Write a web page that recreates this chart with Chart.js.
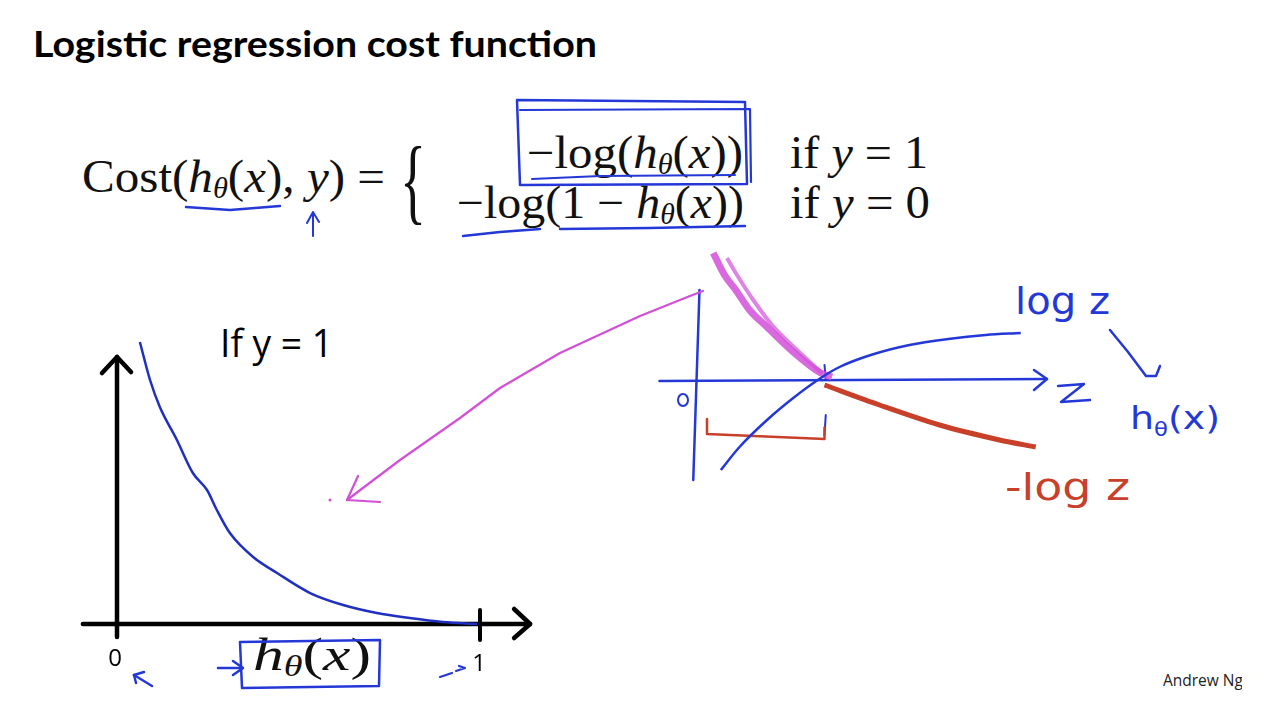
<!DOCTYPE html>
<html>
<head>
<meta charset="utf-8">
<script src="https://cdn.jsdelivr.net/npm/chart.js@4.4.1/dist/chart.umd.min.js"></script>
<style>
html, body { margin: 0; padding: 0; background: #fff; width: 1280px; height: 705px; overflow: hidden; }
#wrap { position: relative; width: 1280px; height: 705px; }
#slide { position: absolute; left: 0; top: 0; }
.t { position: absolute; white-space: nowrap; line-height: 1; transform-origin: left top; }
.serif { font-family: "Liberation Serif", "DejaVu Serif", serif; color: #111; }
.serif sub { font-size: 0.62em; vertical-align: -0.22em; }
.sans { font-family: "Open Sans", "Noto Sans", sans-serif; color: #000; }
.hand { font-family: "DejaVu Sans", sans-serif; }
</style>
</head>
<body>
<div id="wrap">
  <div class="t sans" style="left:33px;top:25px;font-size:36px;font-weight:700;font-family:Lato,'Open Sans',sans-serif" data-w="564">Logistic regression cost function</div>

  <div class="t serif" style="left:82px;top:154px;font-size:46px" data-w="303">Cost(<i>h</i><sub><i>θ</i></sub>(<i>x</i>), <i>y</i>) =</div>
  <div class="t serif" style="left:400px;top:132px;font-size:96px" data-w="26">{</div>
  <div class="t serif" style="left:527px;top:130px;font-size:46px" data-w="216">−log(<i>h</i><sub><i>θ</i></sub>(<i>x</i>))</div>
  <div class="t serif" style="left:457px;top:180px;font-size:46px" data-w="287">−log(1 − <i>h</i><sub><i>θ</i></sub>(<i>x</i>))</div>
  <div class="t serif" style="left:790px;top:130px;font-size:46px" data-w="138">if <i>y</i> = 1</div>
  <div class="t serif" style="left:790px;top:180px;font-size:46px" data-w="140">if <i>y</i> = 0</div>

  <div class="t sans" style="left:220px;top:323px;font-size:38px" data-w="113">If y = 1</div>
  <div class="t serif" style="left:253px;top:632px;font-size:46px" data-w="118"><i>h</i><sub><i>θ</i></sub>(<i>x</i>)</div>

  <div class="t hand" style="left:1015px;top:282px;font-size:38px;color:#2438d8" data-w="95">log z</div>
  <div class="t hand" style="left:1130px;top:402px;font-size:32px;color:#2438d8" data-w="90">h<sub style="font-size:0.6em">θ</sub>(x)</div>
  <div class="t hand" style="left:1005px;top:468px;font-size:38px;color:#c8402a" data-w="125">-log z</div>

  <div style="position:absolute;left:1163px;top:673px;width:79px;height:22px;overflow:hidden">
    <div class="t sans" style="left:0;top:0;font-size:15.5px;color:#222">Andrew Ng</div>
  </div>

  <canvas id="slide" width="1280" height="705"></canvas>
</div>

<script>
// left plot: cost = -log(h) for y = 1
const costX = [0.063, 0.091, 0.118, 0.165, 0.209, 0.248, 0.275, 0.311, 0.375, 0.441, 0.532, 0.623, 0.716, 0.806, 0.898, 0.992];
const costY = [2.82, 2.44, 2.17, 1.84, 1.51, 1.34, 1.14, 0.91, 0.67, 0.51, 0.31, 0.19, 0.11, 0.06, 0.02, 0.0];
const xTicks = [0, 1];
const xTickLabels = ["0", "1"];

// sketch on the right: log z, -log z and the highlighted part
const logZx = [0.19, 0.34, 0.56, 0.78, 0.99, 1.14, 1.39, 1.70, 2.01, 2.31, 2.59];
const logZy = [-1.80, -1.34, -0.80, -0.34, 0.04, 0.26, 0.50, 0.70, 0.82, 0.90, 0.94];
const negLogZx = [1.02, 1.46, 1.94, 2.42, 2.71];
const negLogZy = [-0.10, -0.50, -0.90, -1.20, -1.34];
const pinkX = [0.13, 0.22, 0.31, 0.42, 0.56, 0.78, 0.99, 1.08];
const pinkY = [2.54, 2.10, 1.80, 1.40, 1.06, 0.54, 0.14, 0.06];
const pink2X = [0.24, 0.32, 0.45, 0.60, 0.80, 1.00];
const pink2Y = [2.44, 2.10, 1.60, 1.10, 0.60, 0.14];

const W = 1280, H = 705;
// pixel anchors of each coordinate system on the slide
const left = { x0: 117, kx: 363, y0: 624, ky: 100 };
const right = { x0: 697, kx: 125, y0: 380, ky: 50 };

const pts = (xs, ys) => xs.map((x, i) => ({ x: x, y: ys[i] }));

// fit text widths
document.querySelectorAll("[data-w]").forEach(el => {
  const w = el.getBoundingClientRect().width;
  el.style.transform = `scaleX(${Number(el.dataset.w) / w})`;
});

function poly(ctx, p, color, width, close) {
  ctx.save();
  ctx.strokeStyle = color;
  ctx.lineWidth = width;
  ctx.lineCap = "round";
  ctx.lineJoin = "round";
  ctx.beginPath();
  p.forEach((q, i) => i ? ctx.lineTo(q[0], q[1]) : ctx.moveTo(q[0], q[1]));
  if (close) ctx.closePath();
  ctx.stroke();
  ctx.restore();
}

const BLUE = "#2438d8";
const PINK = "#d24fd8";
const RED = "#c8402a";

const sketchPlugin = {
  id: "sketch",
  beforeDatasetsDraw(chart) {
    const ctx = chart.ctx;
    const { x, y, x2, y2 } = chart.scales;
    const X = v => x.getPixelForValue(v), Y = v => y.getPixelForValue(v);
    const X2 = v => x2.getPixelForValue(v), Y2 = v => y2.getPixelForValue(v);

    // left axes
    poly(ctx, [[X(0), Y(-0.13)], [X(0), Y(2.67)]], "#000", 4.5);
    poly(ctx, [[X(0) - 15, Y(2.67) + 16], [X(0), Y(2.67)], [X(0) + 14, Y(2.67) + 15]], "#000", 4.5);
    poly(ctx, [[X(-0.094), Y(0)], [X(1.138), Y(0)]], "#000", 4.5);
    poly(ctx, [[X(1.138) - 16, Y(0) - 15], [X(1.138), Y(0)], [X(1.138) - 16, Y(0) + 14]], "#000", 4.5);
    poly(ctx, [[X(1), Y(0) + 16], [X(1), Y(0) - 14]], "#000", 4);
    ctx.save();
    ctx.fillStyle = "#000";
    ctx.font = "24px 'Open Sans', sans-serif";
    ctx.textAlign = "center";
    ctx.fillText(xTickLabels[0], X(xTicks[0]) - 2, 666);
    ctx.fillText(xTickLabels[1], X(xTicks[1]) - 1, 671);
    ctx.restore();

    // right sketch axes
    poly(ctx, [[X2(0.02), Y2(1.8)], [X2(-0.03), Y2(-2.0)]], BLUE, 2.5);
    poly(ctx, [[X2(-0.3), Y2(-0.02)], [X2(2.8), Y2(0.02)]], BLUE, 2.5);
    poly(ctx, [[X2(2.8) - 13, Y2(0.02) - 9], [X2(2.8), Y2(0.02)], [X2(2.8) - 13, Y2(0.02) + 11]], BLUE, 2.5);
    poly(ctx, [[1058, 386], [1084, 384], [1061, 402], [1090, 400]], BLUE, 2.5);
    poly(ctx, [[X2(1.02), Y2(0.3)], [X2(1.03), Y2(0.0)]], BLUE, 2);
    poly(ctx, [[X2(1.03), Y2(-0.7)], [X2(1.02), Y2(-1.1)]], BLUE, 2);
    ctx.save();
    ctx.strokeStyle = BLUE; ctx.lineWidth = 2;
    ctx.beginPath(); ctx.ellipse(683, 400, 5, 6, 0, 0, Math.PI * 2); ctx.stroke();
    ctx.restore();
    // red bracket under 0..1
    poly(ctx, [[X2(0.08), Y2(-0.78)], [X2(0.08), Y2(-1.08)], [X2(1.02), Y2(-1.18)], [X2(1.02), Y2(-0.95)]], RED, 2.5);
  },
  afterDatasetsDraw(chart) {
    const ctx = chart.ctx;
    // hand annotations on the formula
    poly(ctx, [[517, 100], [745, 102], [747, 184], [520, 185]], BLUE, 2.5, true);
    poly(ctx, [[520, 110], [750, 109], [751, 182]], BLUE, 2.2);
    poly(ctx, [[532, 179], [600, 176], [735, 175]], BLUE, 2);
    poly(ctx, [[186, 207], [230, 210], [280, 206]], BLUE, 2.5);
    poly(ctx, [[313, 236], [313, 214]], BLUE, 2);
    poly(ctx, [[307, 223], [313, 212], [319, 222]], BLUE, 2);
    poly(ctx, [[463, 236], [500, 232], [540, 229]], BLUE, 2.5);
    poly(ctx, [[560, 229], [650, 228], [745, 226]], BLUE, 2.5);

    // hand annotations on the left plot
    poly(ctx, [[240, 642], [380, 640], [379, 686], [242, 688]], BLUE, 2.5, true);
    poly(ctx, [[218, 668], [242, 668]], BLUE, 2.5);
    poly(ctx, [[233, 661], [243, 668], [233, 675]], BLUE, 2.5);
    poly(ctx, [[152, 686], [134, 675]], BLUE, 2.5);
    poly(ctx, [[134, 675], [136, 683]], BLUE, 2.5);
    poly(ctx, [[134, 675], [144, 672]], BLUE, 2.5);
    poly(ctx, [[440, 677], [452, 673]], BLUE, 2.2);
    poly(ctx, [[456, 671], [465, 668], [459, 666]], BLUE, 2.2);

    // arrow from the sketch to the plot
    poly(ctx, [[703, 291], [690, 296], [640, 316], [560, 353], [500, 388], [460, 418], [400, 460], [347, 500]], PINK, 2.2);
    poly(ctx, [[358, 476], [347, 500], [380, 502]], PINK, 2.2);
    ctx.save(); ctx.fillStyle = PINK; ctx.beginPath(); ctx.arc(330, 500, 1.5, 0, Math.PI * 2); ctx.fill(); ctx.restore();

    // log z -> h(x) arrow
    poly(ctx, [[1110, 330], [1128, 352], [1146, 376], [1156, 376], [1160, 366]], BLUE, 2.5);
  }
};

new Chart(document.getElementById("slide"), {
  type: "scatter",
  data: {
    datasets: [
      { data: pts(costX, costY), showLine: true, borderColor: "#1f30c0", borderWidth: 2.5,
        pointRadius: 0, cubicInterpolationMode: "monotone", xAxisID: "x", yAxisID: "y" },
      { data: pts(negLogZx, negLogZy), showLine: true, borderColor: RED, borderWidth: 5,
        pointRadius: 0, tension: 0.3, xAxisID: "x2", yAxisID: "y2" },
      { data: pts(logZx, logZy), showLine: true, borderColor: BLUE, borderWidth: 2.5,
        pointRadius: 0, cubicInterpolationMode: "monotone", xAxisID: "x2", yAxisID: "y2" },
      { data: pts(pinkX, pinkY), showLine: true, borderColor: "rgba(210,79,216,0.85)", borderWidth: 7,
        pointRadius: 0, cubicInterpolationMode: "monotone", xAxisID: "x2", yAxisID: "y2" },
      { data: pts(pink2X, pink2Y), showLine: true, borderColor: "rgba(210,79,216,0.7)", borderWidth: 4,
        pointRadius: 0, cubicInterpolationMode: "monotone", xAxisID: "x2", yAxisID: "y2" }
    ]
  },
  options: {
    responsive: false,
    animation: false,
    layout: { padding: 0 },
    plugins: { legend: { display: false }, tooltip: { enabled: false } },
    scales: {
      x: { type: "linear", display: false, min: -left.x0 / left.kx, max: (W - left.x0) / left.kx },
      y: { type: "linear", display: false, min: (left.y0 - H) / left.ky, max: left.y0 / left.ky },
      x2: { type: "linear", display: false, min: -right.x0 / right.kx, max: (W - right.x0) / right.kx },
      y2: { type: "linear", display: false, min: (right.y0 - H) / right.ky, max: right.y0 / right.ky }
    }
  },
  plugins: [sketchPlugin]
});
</script>
</body>
</html>
